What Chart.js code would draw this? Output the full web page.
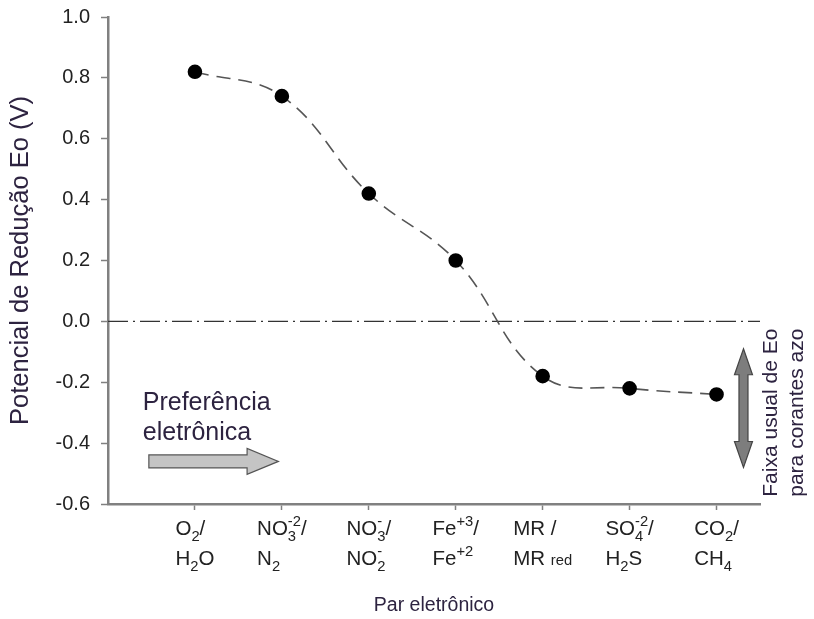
<!DOCTYPE html>
<html>
<head>
<meta charset="utf-8">
<script src="https://cdn.jsdelivr.net/npm/chart.js@4"></script>
<style>
  html, body { margin: 0; padding: 0; background: #fff; }
  #wrap { width: 814px; height: 619px; }
</style>
</head>
<body>
<div id="wrap"><canvas id="c" width="814" height="619"></canvas></div>
<script>
// electron pairs (two lines each, _{} = subscript, ^{} = superscript, ~{} = small text)
const pairTop = ['O_{2}/', 'NO_{3}^{-2}/', 'NO_{3}^{-}/', 'Fe^{+3}/', 'MR /', 'SO_{4}^{-2}/', 'CO_{2}/'];
const pairBottom = ['H_{2}O', 'N_{2}', 'NO_{2}^{-}', 'Fe^{+2}', 'MR ~{red}', 'H_{2}S', 'CH_{4}'];
const positions = [1, 2, 3, 4, 5, 6, 7];
const potentials = [0.82, 0.74, 0.42, 0.20, -0.18, -0.22, -0.24];
const zeroLine = [0, 0];
const xRange = [0, 7.5];
const yTicks = [-0.6, -0.4, -0.2, 0.0, 0.2, 0.4, 0.6, 0.8, 1.0];

const FONT = "'Liberation Sans', Arial, sans-serif";
const TITLE_COLOR = '#2d2340';

function parseRich(s) {
    const parts = [];
    const re = /([_^~])\{([^}]*)\}|([^_^~]+)/g;
    let m;
    while ((m = re.exec(s)) !== null) {
        if (m[3]) parts.push({ kind: 'n', text: m[3] });
        else parts.push({ kind: m[1], text: m[2] });
    }
    return parts;
}

function richWidth(ctx, s, size) {
    let w = 0, subW = 0, last = null;
    parseRich(s).forEach(p => {
        const sz = p.kind === 'n' ? size : size * 0.72;
        ctx.font = sz + 'px ' + FONT;
        const pw = ctx.measureText(p.text).width;
        if (p.kind === '^' && last === '_') {
            w += Math.max(0, pw - subW);
        } else {
            w += pw;
        }
        subW = p.kind === '_' ? pw : 0;
        last = p.kind;
    });
    return w;
}

function drawRich(ctx, s, x, y, size) {
    let cx = x, subStart = null, subW = 0, last = null;
    parseRich(s).forEach(p => {
        const sz = p.kind === 'n' ? size : size * 0.72;
        ctx.font = sz + 'px ' + FONT;
        const pw = ctx.measureText(p.text).width;
        if (p.kind === 'n' || p.kind === '~') {
            ctx.fillText(p.text, cx, y);
            cx += pw;
        } else if (p.kind === '_') {
            subStart = cx;
            ctx.fillText(p.text, cx, y + size * 0.3);
            cx += pw;
            subW = pw;
        } else if (p.kind === '^') {
            if (last === '_') {
                ctx.fillText(p.text, subStart, y - size * 0.45);
                cx = subStart + Math.max(subW, pw);
            } else {
                ctx.fillText(p.text, cx, y - size * 0.45);
                cx += pw;
            }
        }
        last = p.kind;
    });
}

const extras = {
    id: 'extras',
    afterDraw(chart) {
        const ctx = chart.ctx;
        const xs = chart.scales.x, ys = chart.scales.y;
        ctx.save();
        ctx.textBaseline = 'alphabetic';
        ctx.textAlign = 'left';
        ctx.fillStyle = '#222';

        // category labels under the ticks
        const size = 20.5;
        positions.forEach((p, i) => {
            const px = xs.getPixelForValue(p);
            const w = Math.max(richWidth(ctx, pairTop[i], size), richWidth(ctx, pairBottom[i], size));
            drawRich(ctx, pairTop[i], px - w / 2, xs.top + 31, size);
            drawRich(ctx, pairBottom[i], px - w / 2, xs.top + 61, size);
        });

        // "Preferência eletrônica" note with arrow
        ctx.fillStyle = TITLE_COLOR;
        ctx.font = '25px ' + FONT;
        ctx.fillText('Preferência', xs.getPixelForValue(0.4), ys.getPixelForValue(-0.29));
        ctx.fillText('eletrônica', xs.getPixelForValue(0.4), ys.getPixelForValue(-0.39));

        const ax0 = xs.getPixelForValue(0.47), ax1 = xs.getPixelForValue(1.96), axh = xs.getPixelForValue(1.6);
        const ay = ys.getPixelForValue(-0.46);
        ctx.beginPath();
        ctx.moveTo(ax0, ay - 6.5);
        ctx.lineTo(axh, ay - 6.5);
        ctx.lineTo(axh, ay - 13);
        ctx.lineTo(ax1, ay);
        ctx.lineTo(axh, ay + 13);
        ctx.lineTo(axh, ay + 6.5);
        ctx.lineTo(ax0, ay + 6.5);
        ctx.closePath();
        ctx.fillStyle = '#c4c4c4';
        ctx.fill();
        ctx.strokeStyle = '#555';
        ctx.lineWidth = 1.2;
        ctx.stroke();

        // vertical double arrow on the right
        const bx = xs.getPixelForValue(7.31);
        const by0 = ys.getPixelForValue(-0.09), by1 = ys.getPixelForValue(-0.48);
        const head = 26;
        ctx.beginPath();
        ctx.moveTo(bx, by0);
        ctx.lineTo(bx + 9, by0 + head);
        ctx.lineTo(bx + 4.5, by0 + head);
        ctx.lineTo(bx + 4.5, by1 - head);
        ctx.lineTo(bx + 9, by1 - head);
        ctx.lineTo(bx, by1);
        ctx.lineTo(bx - 9, by1 - head);
        ctx.lineTo(bx - 4.5, by1 - head);
        ctx.lineTo(bx - 4.5, by0 + head);
        ctx.lineTo(bx - 9, by0 + head);
        ctx.closePath();
        ctx.fillStyle = '#7d7d7d';
        ctx.fill();
        ctx.strokeStyle = '#444';
        ctx.stroke();

        // rotated note beside it
        ctx.fillStyle = TITLE_COLOR;
        ctx.font = '21px ' + FONT;
        ctx.textAlign = 'center';
        ctx.textBaseline = 'middle';
        const cy = ys.getPixelForValue(-0.3);
        [['Faixa usual de Eo', 7.63], ['para corantes azo', 7.93]].forEach(([t, v]) => {
            ctx.save();
            ctx.translate(xs.getPixelForValue(v), cy);
            ctx.rotate(-Math.PI / 2);
            ctx.fillText(t, 0, 0);
            ctx.restore();
        });
        ctx.restore();
    }
};

new Chart(document.getElementById('c'), {
    type: 'line',
    data: {
        datasets: [{
            data: positions.map((p, i) => ({ x: p, y: potentials[i] })),
            borderColor: '#555',
            borderWidth: 1.6,
            borderDash: [14, 8],
            tension: 0.4,
            pointRadius: 6.5,
            pointBackgroundColor: '#000',
            pointBorderColor: '#000',
            fill: false
        }, {
            data: xRange.map((x, i) => ({ x: x, y: zeroLine[i] })),
            borderColor: '#333',
            borderWidth: 1.4,
            borderDash: [20, 5, 2, 5],
            pointRadius: 0,
            fill: false
        }]
    },
    options: {
        responsive: false,
        animation: false,
        layout: { padding: { top: 17, right: 54, left: 0, bottom: 0 } },
        plugins: { legend: { display: false }, tooltip: { enabled: false } },
        scales: {
            x: {
                type: 'linear',
                min: xRange[0],
                max: xRange[1],
                afterBuildTicks: (scale) => { scale.ticks = positions.map(v => ({ value: v })); },
                afterFit: (scale) => { scale.height = 115; },
                ticks: { display: false },
                grid: { drawOnChartArea: false, tickLength: 6, tickColor: '#808080', tickWidth: 1.5 },
                border: { color: '#808080', width: 2.5 },
                title: {
                    display: true,
                    text: 'Par eletrônico',
                    color: TITLE_COLOR,
                    font: { family: FONT, size: 19.5 },
                    padding: { top: 0, bottom: 2 }
                }
            },
            y: {
                min: -0.6,
                max: 1.0,
                afterBuildTicks: (scale) => { scale.ticks = yTicks.map(v => ({ value: v })); },
                afterFit: (scale) => { scale.width = 108; },
                ticks: {
                    color: '#222',
                    font: { family: FONT, size: 20, lineHeight: 0.6 },
                    padding: 11,
                    callback: (v) => v.toFixed(1)
                },
                grid: { drawOnChartArea: false, tickLength: 7, tickColor: '#808080', tickWidth: 1.5 },
                border: { color: '#808080', width: 2.5 },
                title: {
                    display: true,
                    text: 'Potencial de Redução Eo (V)',
                    color: TITLE_COLOR,
                    font: { family: FONT, size: 25.5 },
                    padding: { top: 6, bottom: 0 }
                }
            }
        }
    },
    plugins: [extras]
});
</script>
</body>
</html>
